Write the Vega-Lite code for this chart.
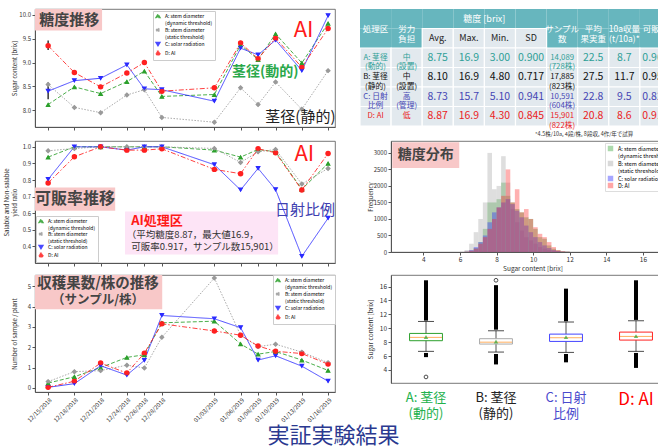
{
"$schema": "https://vega.github.io/schema/vega-lite/v6.json",
"background": "white",
"padding": {"left": 2, "top": 8, "right": 0, "bottom": 0},
"config": {
  "font": "Noto Sans CJK JP",
  "view": {"stroke": "#555", "strokeWidth": 0.8},
  "axis": {"labelFontSize": 6, "titleFontSize": 6, "titleFontWeight": "normal", "labelColor": "#333", "titleColor": "#333", "tickColor": "#555", "domainColor": "#555", "grid": false, "tickSize": 3, "labelPadding": 1.5, "titlePadding": 2, "labelOverlap": false},
  "legend": {"titleFontSize": 6}
},
"title": {"text": "実証実験結果", "orient": "bottom", "anchor": "middle", "fontSize": 22, "fontWeight": "normal", "color": "#2b3990", "offset": 3, "dx": -5},
"datasets": {
  "sugar": [
    {"d":"2018-12-15T00:00:00","A":8.12,"B":8.54,"C":8.40,"D":9.35},
    {"d":"2018-12-18T00:00:00","A":8.49,"B":8.06,"C":8.62,"D":8.79},
    {"d":"2018-12-21T00:00:00","A":8.35,"B":7.95,"C":8.67,"D":8.49},
    {"d":"2018-12-24T00:00:00","A":8.60,"B":8.32,"C":8.95,"D":8.78},
    {"d":"2018-12-26T00:00:00","A":8.82,"B":8.43,"C":8.45,"D":9.00},
    {"d":"2018-12-28T00:00:00","A":8.29,"B":7.85,"C":8.43,"D":8.40},
    {"d":"2019-01-03T00:00:00","A":8.33,"B":7.75,"C":8.19,"D":8.47},
    {"d":"2019-01-06T00:00:00","A":9.37,"B":8.47,"C":9.30,"D":9.41},
    {"d":"2019-01-08T00:00:00","A":9.06,"B":8.12,"C":9.16,"D":9.08},
    {"d":"2019-01-10T00:00:00","A":9.60,"B":8.59,"C":9.47,"D":9.51},
    {"d":"2019-01-13T00:00:00","A":8.99,"B":8.02,"C":8.83,"D":8.90},
    {"d":"2019-01-16T00:00:00","A":9.82,"B":8.83,"C":9.98,"D":9.71}
  ],
  "ratio": [
    {"d":"2018-12-15T00:00:00","A":0.938,"B":0.976,"C":0.804,"D":0.782},
    {"d":"2018-12-18T00:00:00","A":1.0,"B":0.99,"C":1.0,"D":0.94},
    {"d":"2018-12-21T00:00:00","A":1.0,"B":1.0,"C":1.0,"D":1.0},
    {"d":"2018-12-24T00:00:00","A":1.0,"B":1.0,"C":0.98,"D":0.98},
    {"d":"2018-12-26T00:00:00","A":1.0,"B":1.0,"C":1.0,"D":0.98},
    {"d":"2018-12-28T00:00:00","A":1.0,"B":1.0,"C":1.0,"D":0.988},
    {"d":"2019-01-03T00:00:00","A":0.98,"B":0.99,"C":0.892,"D":0.864},
    {"d":"2019-01-06T00:00:00","A":0.938,"B":0.906,"C":0.74,"D":0.838},
    {"d":"2019-01-08T00:00:00","A":0.984,"B":0.97,"C":0.87,"D":0.988},
    {"d":"2019-01-10T00:00:00","A":0.97,"B":0.984,"C":0.742,"D":0.964},
    {"d":"2019-01-13T00:00:00","A":0.744,"B":0.776,"C":0.34,"D":0.74},
    {"d":"2019-01-16T00:00:00","A":0.90,"B":0.87,"C":0.57,"D":0.96}
  ],
  "count": [
    {"d":"2018-12-15T00:00:00","A":0.24,"B":0.31,"C":0.03,"D":0.03},
    {"d":"2018-12-18T00:00:00","A":0.55,"B":0.80,"C":0.21,"D":0.33},
    {"d":"2018-12-21T00:00:00","A":1.0,"B":0.85,"C":1.09,"D":1.22},
    {"d":"2018-12-24T00:00:00","A":1.5,"B":1.12,"C":0.63,"D":0.73},
    {"d":"2018-12-26T00:00:00","A":1.63,"B":0.98,"C":1.35,"D":1.71},
    {"d":"2018-12-28T00:00:00","A":3.2,"B":2.49,"C":3.56,"D":3.15},
    {"d":"2019-01-03T00:00:00","A":3.28,"B":5.4,"C":3.4,"D":2.8},
    {"d":"2019-01-06T00:00:00","A":2.16,"B":2.59,"C":2.96,"D":2.59},
    {"d":"2019-01-08T00:00:00","A":1.66,"B":2.03,"C":1.37,"D":2.06},
    {"d":"2019-01-10T00:00:00","A":1.79,"B":2.15,"C":1.58,"D":1.8},
    {"d":"2019-01-13T00:00:00","A":1.37,"B":1.76,"C":1.07,"D":1.69},
    {"d":"2019-01-16T00:00:00","A":0.86,"B":1.24,"C":0.33,"D":1.17}
  ],
  "hist": [
    {"lo":6.0,"hi":6.25,"A":0,"B":10,"C":0,"D":0},
    {"lo":6.25,"hi":6.5,"A":10,"B":60,"C":10,"D":10},
    {"lo":6.5,"hi":6.75,"A":40,"B":250,"C":60,"D":40},
    {"lo":6.75,"hi":7.0,"A":120,"B":600,"C":150,"D":100},
    {"lo":7.0,"hi":7.25,"A":300,"B":1000,"C":300,"D":250},
    {"lo":7.25,"hi":7.5,"A":700,"B":1500,"C":500,"D":450},
    {"lo":7.5,"hi":7.75,"A":1500,"B":3000,"C":900,"D":700},
    {"lo":7.75,"hi":8.0,"A":1500,"B":1900,"C":1200,"D":1000},
    {"lo":8.0,"hi":8.25,"A":1600,"B":2000,"C":1350,"D":1350},
    {"lo":8.25,"hi":8.5,"A":2100,"B":2900,"C":1500,"D":1700},
    {"lo":8.5,"hi":8.75,"A":1700,"B":2100,"C":1600,"D":2500},
    {"lo":8.75,"hi":9.0,"A":1500,"B":1300,"C":1450,"D":1500},
    {"lo":9.0,"hi":9.25,"A":1300,"B":900,"C":1250,"D":1900},
    {"lo":9.25,"hi":9.5,"A":1200,"B":650,"C":1050,"D":1200},
    {"lo":9.5,"hi":9.75,"A":1050,"B":450,"C":800,"D":1300},
    {"lo":9.75,"hi":10.0,"A":1000,"B":350,"C":600,"D":1000},
    {"lo":10.0,"hi":10.25,"A":700,"B":250,"C":450,"D":750},
    {"lo":10.25,"hi":10.5,"A":450,"B":150,"C":300,"D":550},
    {"lo":10.5,"hi":10.75,"A":400,"B":100,"C":200,"D":450},
    {"lo":10.75,"hi":11.0,"A":200,"B":60,"C":120,"D":300},
    {"lo":11.0,"hi":11.25,"A":100,"B":30,"C":60,"D":150},
    {"lo":11.25,"hi":11.5,"A":50,"B":15,"C":30,"D":60},
    {"lo":11.5,"hi":11.75,"A":20,"B":10,"C":10,"D":25},
    {"lo":11.75,"hi":12.0,"A":10,"B":5,"C":5,"D":10}
  ],
  "box": [
    {"s":"A","wl":6.68,"q1":8.21,"med":8.69,"q3":9.26,"wh":10.98,"mean":8.75,"ol1":5.85,"ol2":6.45,"oh1":11.1,"oh2":16.9},
    {"s":"B","wl":6.58,"q1":7.73,"med":8.0,"q3":8.5,"wh":9.64,"mean":8.10,"ol1":4.8,"ol2":6.3,"oh1":9.8,"oh2":16.2},
    {"s":"C","wl":6.53,"q1":8.11,"med":8.64,"q3":9.16,"wh":10.9,"mean":8.73,"ol1":5.1,"ol2":6.3,"oh1":11.0,"oh2":15.7},
    {"s":"D","wl":6.68,"q1":8.3,"med":8.83,"q3":9.45,"wh":11.08,"mean":8.87,"ol1":4.3,"ol2":6.45,"oh1":11.2,"oh2":16.9}
  ],
  "table": [
    {"r":"h1","c":"c0","t":"処理区"},{"r":"h1","c":"c1","t":"労力\n負担"},{"r":"h1","c":"c2","t":""},{"r":"h1","c":"c3","t":""},{"r":"h1","c":"c4","t":""},{"r":"h1","c":"c5","t":""},{"r":"h1","c":"c6","t":"サンプル\n数"},{"r":"h1","c":"c7","t":"平均\n果実重"},{"r":"h1","c":"c8","t":"10a収量\n(t/10a)*"},{"r":"h1","c":"c9","t":"可販率"},
    {"r":"h2","c":"c0","t":""},{"r":"h2","c":"c1","t":""},{"r":"h2","c":"c2","t":"Avg."},{"r":"h2","c":"c3","t":"Max."},{"r":"h2","c":"c4","t":"Min."},{"r":"h2","c":"c5","t":"SD"},{"r":"h2","c":"c6","t":""},{"r":"h2","c":"c7","t":""},{"r":"h2","c":"c8","t":""},{"r":"h2","c":"c9","t":""},
    {"r":"A","c":"c0","t":"A: 茎径\n(動的)"},{"r":"A","c":"c1","t":"中\n(設置)"},{"r":"A","c":"c2","t":"8.75"},{"r":"A","c":"c3","t":"16.9"},{"r":"A","c":"c4","t":"3.00"},{"r":"A","c":"c5","t":"0.900"},{"r":"A","c":"c6","t":"14,089\n(728株)"},{"r":"A","c":"c7","t":"22.5"},{"r":"A","c":"c8","t":"8.7"},{"r":"A","c":"c9","t":"0.962"},
    {"r":"B","c":"c0","t":"B: 茎径\n(静的)"},{"r":"B","c":"c1","t":"中\n(設置)"},{"r":"B","c":"c2","t":"8.10"},{"r":"B","c":"c3","t":"16.9"},{"r":"B","c":"c4","t":"4.80"},{"r":"B","c":"c5","t":"0.717"},{"r":"B","c":"c6","t":"17,885\n(823株)"},{"r":"B","c":"c7","t":"27.5"},{"r":"B","c":"c8","t":"11.7"},{"r":"B","c":"c9","t":"0.959"},
    {"r":"C","c":"c0","t":"C: 日射\n比例"},{"r":"C","c":"c1","t":"高\n(管理)"},{"r":"C","c":"c2","t":"8.73"},{"r":"C","c":"c3","t":"15.7"},{"r":"C","c":"c4","t":"5.10"},{"r":"C","c":"c5","t":"0.941"},{"r":"C","c":"c6","t":"10,591\n(604株)"},{"r":"C","c":"c7","t":"22.8"},{"r":"C","c":"c8","t":"9.5"},{"r":"C","c":"c9","t":"0.829"},
    {"r":"D","c":"c0","t":"D: AI"},{"r":"D","c":"c1","t":"低"},{"r":"D","c":"c2","t":"8.87"},{"r":"D","c":"c3","t":"16.9"},{"r":"D","c":"c4","t":"4.30"},{"r":"D","c":"c5","t":"0.845"},{"r":"D","c":"c6","t":"15,901\n(822株)"},{"r":"D","c":"c7","t":"20.8"},{"r":"D","c":"c8","t":"8.6"},{"r":"D","c":"c9","t":"0.917"}
  ]
},
"spacing": 2,
"resolve": {"scale": {"color": "independent", "shape": "independent", "strokeDash": "independent", "stroke": "independent", "fill": "independent"}, "legend": {"color": "independent", "shape": "independent", "strokeDash": "independent", "stroke": "independent", "fill": "independent"}},
"vconcat": [
 {"hconcat": [
  {"width": 300, "height": 118,
   "layer": [
    {"data": {"values": [{}]}, "mark": {"type": "rect", "fill": "#f8c8c8"},
     "encoding": {"x": {"datum": {"year":2018,"month":12,"date":13,"hours":12}, "type": "temporal"}, "x2": {"datum": {"year":2018,"month":12,"date":21,"hours":4}}, "y": {"datum": 10.12, "type": "quantitative"}, "y2": {"datum": 9.67}}},
    {"data": {"values": [{"t": "糖度推移"}]}, "mark": {"type": "text", "fontSize": 15, "fontWeight": "bold", "color": "#444"},
     "encoding": {"x": {"datum": {"year":2018,"month":12,"date":17,"hours":10}, "type": "temporal"}, "y": {"datum": 9.9, "type": "quantitative"}, "text": {"field": "t"}}},
    {"data": {"values": [{"d":"2018-12-15T00:00:00","lo":8.23,"hi":8.58},{"d":"2018-12-15T00:00:00","lo":9.26,"hi":9.46}]}, "mark": {"type": "rule", "color": "black", "strokeWidth": 1.2},
     "encoding": {"x": {"field": "d", "type": "temporal"}, "y": {"field": "lo", "type": "quantitative"}, "y2": {"field": "hi"}}},
    {"data": {"name": "sugar"}, "transform": [{"fold": ["A","B","C","D"], "as": ["s","v"]}],
     "encoding": {
       "x": {"field": "d", "type": "temporal", "scale": {"domain": [{"year":2018,"month":12,"date":13,"hours":12},{"year":2019,"month":1,"date":16,"hours":19}]}, "axis": {"title": null, "labels": false, "tickCount": 50, "values": [{"year":2018,"month":12,"date":15},{"year":2018,"month":12,"date":18},{"year":2018,"month":12,"date":21},{"year":2018,"month":12,"date":24},{"year":2018,"month":12,"date":26},{"year":2018,"month":12,"date":28},{"year":2019,"month":1,"date":3},{"year":2019,"month":1,"date":6},{"year":2019,"month":1,"date":8},{"year":2019,"month":1,"date":10},{"year":2019,"month":1,"date":13},{"year":2019,"month":1,"date":16}]}},
       "y": {"field": "v", "type": "quantitative", "scale": {"domain": [7.65, 10.12], "nice": false, "zero": false}, "axis": {"values": [8, 8.5, 9, 9.5, 10], "tickCount": 50, "format": ".1f", "title": ["", "Sugar content [brix]"], "minExtent": 16, "maxExtent": 16}},
       "color": {"field": "s", "type": "nominal", "title": null, "scale": {"domain": ["A","B","C","D"], "range": ["#2ca02c","#9a9a9a","#2b2bff","#ff2020"]},
         "legend": {"orient": "none", "legendX": 118, "legendY": 2, "labelExpr": "datum.value == 'A' ? ['A: stem diameter', '(dynamic threshold)'] : datum.value == 'B' ? ['B: stem diameter', '(static threshold)'] : datum.value == 'C' ? 'C: solar radiation' : 'D: AI'", "fillColor": "white", "strokeColor": "#ccc", "padding": 2, "rowPadding": -1, "labelFontSize": 5, "symbolSize": 14, "labelLimit": 150}},
       "shape": {"field": "s", "type": "nominal", "title": null, "scale": {"domain": ["A","B","C","D"], "range": ["triangle-up","diamond","triangle-down","circle"]}},
       "strokeDash": {"field": "s", "type": "nominal", "title": null, "scale": {"domain": ["A","B","C","D"], "range": [[4,2],[1.5,1.5],[1,0],[5,2,1.5,2]]}}
     },
     "layer": [
       {"mark": {"type": "line", "strokeWidth": 1, "opacity": 0.85}},
       {"mark": {"type": "point", "filled": true, "size": 18, "opacity": 1}}
     ]},
    {"data": {"values": [{"t": "AI"}]}, "mark": {"type": "text", "fontSize": 22, "color": "#ff1a1a"},
     "encoding": {"x": {"datum": {"year":2019,"month":1,"date":13,"hours":5}, "type": "temporal"}, "y": {"datum": 9.69, "type": "quantitative"}, "text": {"field": "t"}}},
    {"data": {"values": [{"t": "茎径(動的)"}]}, "mark": {"type": "text", "fontSize": 14, "fontWeight": "bold", "color": "#2aa84a"},
     "encoding": {"x": {"datum": {"year":2019,"month":1,"date":8,"hours":20}, "type": "temporal"}, "y": {"datum": 8.80, "type": "quantitative"}, "text": {"field": "t"}}},
    {"data": {"values": [{"t": "茎径(静的)"}]}, "mark": {"type": "text", "fontSize": 15, "color": "#222"},
     "encoding": {"x": {"datum": {"year":2019,"month":1,"date":12,"hours":20}, "type": "temporal"}, "y": {"datum": 7.86, "type": "quantitative"}, "text": {"field": "t"}}}
   ]},
  {"width": 311, "height": 117, "view": {"stroke": null},
   "data": {"name": "table"},
   "encoding": {
     "x": {"field": "c", "type": "ordinal", "axis": null, "scale": {"paddingInner": 0, "paddingOuter": 0}},
     "y": {"field": "r", "type": "ordinal", "axis": null, "scale": {"domain": ["h1","h2","A","B","C","D"], "paddingInner": 0, "paddingOuter": 0}}
   },
   "layer": [
     {"transform": [{"filter": "datum.r == 'h1' || (datum.r == 'h2' && indexof(['c2','c3','c4','c5'], datum.c) < 0)"}], "mark": {"type": "rect", "fill": "#67b6be"}},
     {"transform": [{"filter": "!(datum.r == 'h1' || (datum.r == 'h2' && indexof(['c2','c3','c4','c5'], datum.c) < 0))"}], "mark": {"type": "rect", "fill": "#e2e9ee", "stroke": "white", "strokeWidth": 1.2}},
     {"transform": [{"filter": "datum.r == 'h1' && datum.t != ''"}], "mark": {"type": "text", "fontSize": 8.5, "lineBreak": "\n", "lineHeight": 10, "dy": 9.75, "color": "white"}, "encoding": {"text": {"field": "t"}}},
     {"transform": [{"filter": "datum.r == 'h2' && datum.t != ''"}], "mark": {"type": "text", "fontSize": 9, "color": "#222"}, "encoding": {"text": {"field": "t"}}},
     {"transform": [{"filter": "datum.r != 'h1' && datum.r != 'h2' && indexof(['c0','c1','c6'], datum.c) >= 0"}], "mark": {"type": "text", "fontSize": 7.8, "lineBreak": "\n", "lineHeight": 9.5},
      "encoding": {"text": {"field": "t"}, "color": {"field": "r", "type": "nominal", "scale": {"domain": ["A","B","C","D"], "range": ["#2f9f97","#111111","#4646b4","#ea1c24"]}, "legend": null}}},
     {"transform": [{"filter": "datum.r != 'h1' && datum.r != 'h2' && indexof(['c0','c1','c6'], datum.c) < 0"}], "mark": {"type": "text", "fontSize": 10.5},
      "encoding": {"text": {"field": "t"}, "color": {"field": "r", "type": "nominal", "scale": {"domain": ["A","B","C","D"], "range": ["#2f9f97","#111111","#4646b4","#ea1c24"]}, "legend": null}}},
     {"data": {"values": [{"t": "糖度 [brix]"}]}, "mark": {"type": "text", "fontSize": 9, "color": "white", "dx": 15.5},
      "encoding": {"x": {"datum": "c3", "type": "ordinal"}, "y": {"datum": "h1", "type": "ordinal"}, "text": {"field": "t"}}},
     {"data": {"values": [{"t": "*4.5株/10a, 4段/株, 8段収, 4作/年で試算"}]}, "mark": {"type": "text", "fontSize": 5.5, "color": "#333", "align": "left", "dx": 4, "dy": 17.5},
      "encoding": {"x": {"datum": "c5", "type": "ordinal"}, "y": {"datum": "D", "type": "ordinal"}, "text": {"field": "t"}}}
   ]}
 ], "spacing": 23,
 "resolve": {"scale": {"color": "independent", "shape": "independent", "strokeDash": "independent", "stroke": "independent", "fill": "independent"}, "legend": {"color": "independent", "shape": "independent", "strokeDash": "independent", "stroke": "independent", "fill": "independent"}}},
 {"hconcat": [
  {"width": 300, "height": 122,
   "layer": [
    {"data": {"values": [{}]}, "mark": {"type": "rect", "fill": "#f8c8c8"},
     "encoding": {"x": {"datum": {"year":2018,"month":12,"date":13,"hours":12}, "type": "temporal"}, "x2": {"datum": {"year":2018,"month":12,"date":22,"hours":16}}, "y": {"datum": 0.755, "type": "quantitative"}, "y2": {"datum": 0.615}}},
    {"data": {"values": [{"t": "可販率推移"}]}, "mark": {"type": "text", "fontSize": 16, "fontWeight": "bold", "color": "#444"},
     "encoding": {"x": {"datum": {"year":2018,"month":12,"date":18,"hours":2}, "type": "temporal"}, "y": {"datum": 0.686, "type": "quantitative"}, "text": {"field": "t"}}},
    {"data": {"values": [{}]}, "mark": {"type": "rect", "fill": "#fde4f6"},
     "encoding": {"x": {"datum": {"year":2018,"month":12,"date":23,"hours":19}, "type": "temporal"}, "x2": {"datum": {"year":2019,"month":1,"date":10,"hours":7}}, "y": {"datum": 0.610, "type": "quantitative"}, "y2": {"datum": 0.351}}},
    {"data": {"name": "ratio"}, "transform": [{"fold": ["A","B","C","D"], "as": ["s","v"]}],
     "encoding": {
       "x": {"field": "d", "type": "temporal", "scale": {"domain": [{"year":2018,"month":12,"date":13,"hours":12},{"year":2019,"month":1,"date":16,"hours":19}]}, "axis": {"title": null, "labels": false, "tickCount": 50, "values": [{"year":2018,"month":12,"date":15},{"year":2018,"month":12,"date":18},{"year":2018,"month":12,"date":21},{"year":2018,"month":12,"date":24},{"year":2018,"month":12,"date":26},{"year":2018,"month":12,"date":28},{"year":2019,"month":1,"date":3},{"year":2019,"month":1,"date":6},{"year":2019,"month":1,"date":8},{"year":2019,"month":1,"date":10},{"year":2019,"month":1,"date":13},{"year":2019,"month":1,"date":16}]}},
       "y": {"field": "v", "type": "quantitative", "scale": {"domain": [0.30, 1.035], "nice": false, "zero": false}, "axis": {"values": [0.4,0.5,0.6,0.7,0.8,0.9,1.0], "tickCount": 50, "format": ".1f", "title": ["Salable and Non-salable", "yield ratio"], "minExtent": 16, "maxExtent": 16}},
       "color": {"field": "s", "type": "nominal", "title": null, "scale": {"domain": ["A","B","C","D"], "range": ["#2ca02c","#9a9a9a","#2b2bff","#ff2020"]},
         "legend": {"orient": "bottom-left", "offset": 1, "labelExpr": "datum.value == 'A' ? ['A: stem diameter', '(dynamic threshold)'] : datum.value == 'B' ? ['B: stem diameter', '(static threshold)'] : datum.value == 'C' ? 'C: solar radiation' : 'D: AI'", "fillColor": "white", "strokeColor": "#ccc", "padding": 2, "rowPadding": -2, "labelFontSize": 5, "symbolSize": 14, "labelLimit": 150}},
       "shape": {"field": "s", "type": "nominal", "title": null, "scale": {"domain": ["A","B","C","D"], "range": ["triangle-up","diamond","triangle-down","circle"]}},
       "strokeDash": {"field": "s", "type": "nominal", "title": null, "scale": {"domain": ["A","B","C","D"], "range": [[4,2],[1.5,1.5],[1,0],[5,2,1.5,2]]}}
     },
     "layer": [
       {"mark": {"type": "line", "strokeWidth": 1, "opacity": 0.85}},
       {"mark": {"type": "point", "filled": true, "size": 18, "opacity": 1}}
     ]},
    {"data": {"values": [{"t": "AI処理区"}]}, "mark": {"type": "text", "fontSize": 13, "fontWeight": "bold", "color": "#ff1a1a", "align": "left"},
     "encoding": {"x": {"datum": {"year":2018,"month":12,"date":24,"hours":12}, "type": "temporal"}, "y": {"datum": 0.553, "type": "quantitative"}, "text": {"field": "t"}}},
    {"data": {"values": [{"t": "（平均糖度8.87，最大値16.9，"}]}, "mark": {"type": "text", "fontSize": 9.5, "color": "#333", "align": "left"},
     "encoding": {"x": {"datum": {"year":2018,"month":12,"date":24,"hours":0}, "type": "temporal"}, "y": {"datum": 0.470, "type": "quantitative"}, "text": {"field": "t"}}},
    {"data": {"values": [{"t": "可販率0.917，サンプル数15,901）"}]}, "mark": {"type": "text", "fontSize": 9.5, "color": "#333", "align": "left"},
     "encoding": {"x": {"datum": {"year":2018,"month":12,"date":24,"hours":12}, "type": "temporal"}, "y": {"datum": 0.395, "type": "quantitative"}, "text": {"field": "t"}}},
    {"data": {"values": [{"t": "AI"}]}, "mark": {"type": "text", "fontSize": 22, "color": "#ff1a1a"},
     "encoding": {"x": {"datum": {"year":2019,"month":1,"date":13,"hours":7}, "type": "temporal"}, "y": {"datum": 0.954, "type": "quantitative"}, "text": {"field": "t"}}},
    {"data": {"values": [{"t": "日射比例"}]}, "mark": {"type": "text", "fontSize": 15, "color": "#4040b0", "align": "right"},
     "encoding": {"x": {"datum": {"year":2019,"month":1,"date":16,"hours":19}, "type": "temporal"}, "y": {"datum": 0.622, "type": "quantitative"}, "text": {"field": "t"}}}
   ]},
  {"width": 283, "height": 111,
   "layer": [
    {"data": {"values": [{}]}, "mark": {"type": "rect", "fill": "#f8c8c8"},
     "encoding": {"x": {"datum": 2.3, "type": "quantitative"}, "x2": {"datum": 5.96}, "y": {"datum": 3320, "type": "quantitative"}, "y2": {"datum": 2545}}},
    {"data": {"values": [{"t": "糖度分布"}]}, "mark": {"type": "text", "fontSize": 14, "fontWeight": "bold", "color": "#444"},
     "encoding": {"x": {"datum": 4.13, "type": "quantitative"}, "y": {"datum": 2930, "type": "quantitative"}, "text": {"field": "t"}}},
    {"data": {"name": "hist"}, "transform": [{"fold": ["A","B","C","D"], "as": ["s","n"]}],
     "mark": {"type": "rect", "opacity": 0.35},
     "encoding": {
       "x": {"field": "lo", "type": "quantitative", "scale": {"domain": [2.23, 17.7], "nice": false, "zero": false}, "axis": {"values": [4,6,8,10,12,14,16], "tickCount": 50, "format": "d", "title": "Sugar content [brix]", "labelFontSize": 6.5, "titleFontSize": 6.5}},
       "x2": {"field": "hi"},
       "y": {"field": "n", "type": "quantitative", "scale": {"domain": [0, 3360], "nice": false}, "axis": {"values": [0,500,1000,1500,2000,2500,3000], "tickCount": 50, "format": "d", "title": "Frequency", "minExtent": 16, "maxExtent": 16}},
       "y2": {"datum": 0},
       "color": {"field": "s", "type": "nominal", "title": null, "scale": {"domain": ["A","B","C","D"], "range": ["#2ca02c","#a0a0a0","#2020ff","#ff2020"]},
         "legend": {"orient": "top-right", "offset": 2, "labelExpr": "datum.value == 'A' ? ['A: stem diameter', '(dynamic threshold)'] : datum.value == 'B' ? ['B: stem diameter', '(static threshold)'] : datum.value == 'C' ? 'C: solar radiation' : 'D: AI'", "symbolType": "square", "symbolSize": 30, "symbolOpacity": 0.4, "fillColor": "white", "strokeColor": "#ddd", "padding": 2, "rowPadding": -1, "labelFontSize": 5.5, "labelLimit": 150}}
     }}
   ]}
 ], "spacing": 30,
 "resolve": {"scale": {"color": "independent", "shape": "independent", "strokeDash": "independent", "stroke": "independent", "fill": "independent"}, "legend": {"color": "independent", "shape": "independent", "strokeDash": "independent", "stroke": "independent", "fill": "independent"}}},
 {"hconcat": [
  {"width": 300, "height": 117,
   "layer": [
    {"data": {"values": [{}]}, "mark": {"type": "rect", "fill": "#f8c8c8"},
     "encoding": {"x": {"datum": {"year":2018,"month":12,"date":13,"hours":12}, "type": "temporal"}, "x2": {"datum": {"year":2018,"month":12,"date":28,"hours":1}}, "y": {"datum": 5.55, "type": "quantitative"}, "y2": {"datum": 3.87}}},
    {"data": {"values": [{"t": "収穫果数/株の推移"}]}, "mark": {"type": "text", "fontSize": 14.5, "fontWeight": "bold", "color": "#444"},
     "encoding": {"x": {"datum": {"year":2018,"month":12,"date":20,"hours":17}, "type": "temporal"}, "y": {"datum": 5.1, "type": "quantitative"}, "text": {"field": "t"}}},
    {"data": {"values": [{"t": "（サンプル/株）"}]}, "mark": {"type": "text", "fontSize": 12.5, "fontWeight": "bold", "color": "#444"},
     "encoding": {"x": {"datum": {"year":2018,"month":12,"date":20,"hours":17}, "type": "temporal"}, "y": {"datum": 4.3, "type": "quantitative"}, "text": {"field": "t"}}},
    {"data": {"name": "count"}, "transform": [{"fold": ["A","B","C","D"], "as": ["s","v"]}],
     "encoding": {
       "x": {"field": "d", "type": "temporal", "scale": {"domain": [{"year":2018,"month":12,"date":13,"hours":12},{"year":2019,"month":1,"date":16,"hours":19}]}, "axis": {"title": null, "format": "%m/%d/%Y", "labelAngle": -45, "labelFontSize": 6, "tickCount": 50, "values": [{"year":2018,"month":12,"date":15},{"year":2018,"month":12,"date":18},{"year":2018,"month":12,"date":21},{"year":2018,"month":12,"date":24},{"year":2018,"month":12,"date":26},{"year":2018,"month":12,"date":28},{"year":2019,"month":1,"date":3},{"year":2019,"month":1,"date":6},{"year":2019,"month":1,"date":8},{"year":2019,"month":1,"date":10},{"year":2019,"month":1,"date":13},{"year":2019,"month":1,"date":16}]}},
       "y": {"field": "v", "type": "quantitative", "scale": {"domain": [-0.2, 5.55], "nice": false, "zero": false}, "axis": {"values": [0,1,2,3,4,5], "tickCount": 50, "format": "d", "title": ["", "Number of sample / plant"], "minExtent": 16, "maxExtent": 16}},
       "color": {"field": "s", "type": "nominal", "title": null, "scale": {"domain": ["A","B","C","D"], "range": ["#2ca02c","#9a9a9a","#2b2bff","#ff2020"]},
         "legend": {"orient": "top-right", "offset": 0, "labelExpr": "datum.value == 'A' ? ['A: stem diameter', '(dynamic threshold)'] : datum.value == 'B' ? ['B: stem diameter', '(static threshold)'] : datum.value == 'C' ? 'C: solar radiation' : 'D: AI'", "fillColor": "white", "strokeColor": "#ccc", "padding": 2, "rowPadding": -1, "labelFontSize": 5, "symbolSize": 14, "labelLimit": 150}},
       "shape": {"field": "s", "type": "nominal", "title": null, "scale": {"domain": ["A","B","C","D"], "range": ["triangle-up","diamond","triangle-down","circle"]}},
       "strokeDash": {"field": "s", "type": "nominal", "title": null, "scale": {"domain": ["A","B","C","D"], "range": [[4,2],[1.5,1.5],[1,0],[5,2,1.5,2]]}}
     },
     "layer": [
       {"mark": {"type": "line", "strokeWidth": 1, "opacity": 0.85}},
       {"mark": {"type": "point", "filled": true, "size": 18, "opacity": 1}}
     ]}
   ]},
  {"width": 280, "height": 108,
   "data": {"name": "box"},
   "encoding": {"x": {"field": "s", "type": "nominal", "scale": {"domain": ["A","B","C","D"], "paddingInner": 0, "paddingOuter": 0},
     "axis": {"title": null, "ticks": false, "domain": false, "labelAngle": 0, "labelPadding": 8, "labelLineHeight": 16, "labelBaseline": "top",
       "labelExpr": "datum.value == 'A' ? ['A: 茎径', '(動的)'] : datum.value == 'B' ? ['B: 茎径', '(静的)'] : datum.value == 'C' ? ['C: 日射', '比例'] : 'D: AI'",
       "labelFontSize": {"condition": {"test": "datum.value == 'D'", "value": 17}, "value": 13},
       "labelColor": {"condition": [{"test": "datum.value == 'A'", "value": "#22b14c"}, {"test": "datum.value == 'C'", "value": "#4a4acd"}, {"test": "datum.value == 'D'", "value": "#ff0000"}], "value": "#222"}}}},
   "layer": [
     {"mark": {"type": "rule", "color": "black", "strokeWidth": 4}, "encoding": {"y": {"field": "oh1", "type": "quantitative", "scale": {"domain": [2.13, 17.66], "nice": false, "zero": false}, "axis": {"values": [4,6,8,10,12,14,16], "tickCount": 50, "format": "d", "title": "Sugar content [brix]", "minExtent": 16, "maxExtent": 16, "labelFontSize": 6.5, "titleFontSize": 6.5}}, "y2": {"field": "oh2"}}},
     {"mark": {"type": "rule", "color": "black", "strokeWidth": 4}, "encoding": {"y": {"field": "ol1", "type": "quantitative"}, "y2": {"field": "ol2"}}},
     {"mark": {"type": "rule", "color": "#555", "strokeWidth": 1}, "encoding": {"y": {"field": "wl", "type": "quantitative"}, "y2": {"field": "wh"}}},
     {"mark": {"type": "tick", "color": "black", "size": 16, "thickness": 1}, "encoding": {"y": {"field": "wl", "type": "quantitative"}}},
     {"mark": {"type": "tick", "color": "black", "size": 16, "thickness": 1}, "encoding": {"y": {"field": "wh", "type": "quantitative"}}},
     {"mark": {"type": "bar", "fill": "white", "strokeWidth": 1, "width": {"band": 0.47}}, "encoding": {"y": {"field": "q1", "type": "quantitative"}, "y2": {"field": "q3"}, "stroke": {"field": "s", "type": "nominal", "scale": {"domain": ["A","B","C","D"], "range": ["#2ca02c","#aaaaaa","#4444ff","#ff2222"]}, "legend": null}}},
     {"mark": {"type": "tick", "color": "#ff8c1a", "size": 32, "thickness": 1}, "encoding": {"y": {"field": "med", "type": "quantitative"}}},
     {"mark": {"type": "point", "shape": "triangle-up", "filled": true, "color": "#2ca02c", "size": 20}, "encoding": {"y": {"field": "mean", "type": "quantitative"}}},
     {"data": {"values": [{"s":"A","v":3.0},{"s":"B","v":16.9}]}, "mark": {"type": "point", "shape": "circle", "color": "black", "size": 14, "strokeWidth": 1}, "encoding": {"y": {"field": "v", "type": "quantitative"}}}
   ]}
 ], "spacing": 30,
 "resolve": {"scale": {"color": "independent", "shape": "independent", "strokeDash": "independent", "stroke": "independent", "fill": "independent"}, "legend": {"color": "independent", "shape": "independent", "strokeDash": "independent", "stroke": "independent", "fill": "independent"}}}
]
}
